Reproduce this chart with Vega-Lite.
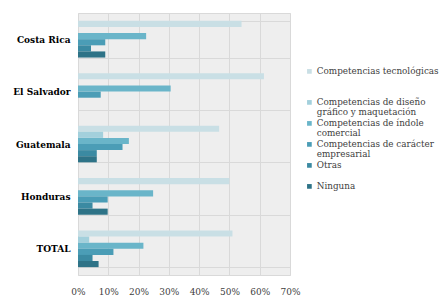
{
  "$schema": "https://vega.github.io/schema/vega-lite/v6.json",
  "width": 212,
  "height": 262,
  "autosize": "none",
  "padding": {"left": 78, "top": 13, "right": 157, "bottom": 32},
  "background": "white",
  "config": {
    "font": "DejaVu Serif",
    "view": {"stroke": "#d9d9d9", "fill": "#eeeeee"}
  },
  "data": {
    "values": [
      {"country": "Costa Rica", "cat": "Competencias tecnológicas", "value": 0.54},
      {"country": "Costa Rica", "cat": "Competencias de diseño gráfico y maquetación", "value": 0},
      {"country": "Costa Rica", "cat": "Competencias de índole comercial", "value": 0.225},
      {"country": "Costa Rica", "cat": "Competencias de carácter empresarial", "value": 0.09},
      {"country": "Costa Rica", "cat": "Otras", "value": 0.043},
      {"country": "Costa Rica", "cat": "Ninguna", "value": 0.09},
      {"country": "El Salvador", "cat": "Competencias tecnológicas", "value": 0.614},
      {"country": "El Salvador", "cat": "Competencias de diseño gráfico y maquetación", "value": 0},
      {"country": "El Salvador", "cat": "Competencias de índole comercial", "value": 0.306},
      {"country": "El Salvador", "cat": "Competencias de carácter empresarial", "value": 0.075},
      {"country": "El Salvador", "cat": "Otras", "value": 0},
      {"country": "El Salvador", "cat": "Ninguna", "value": 0},
      {"country": "Guatemala", "cat": "Competencias tecnológicas", "value": 0.466},
      {"country": "Guatemala", "cat": "Competencias de diseño gráfico y maquetación", "value": 0.083},
      {"country": "Guatemala", "cat": "Competencias de índole comercial", "value": 0.168},
      {"country": "Guatemala", "cat": "Competencias de carácter empresarial", "value": 0.147},
      {"country": "Guatemala", "cat": "Otras", "value": 0.062},
      {"country": "Guatemala", "cat": "Ninguna", "value": 0.062},
      {"country": "Honduras", "cat": "Competencias tecnológicas", "value": 0.50},
      {"country": "Honduras", "cat": "Competencias de diseño gráfico y maquetación", "value": 0},
      {"country": "Honduras", "cat": "Competencias de índole comercial", "value": 0.248},
      {"country": "Honduras", "cat": "Competencias de carácter empresarial", "value": 0.098},
      {"country": "Honduras", "cat": "Otras", "value": 0.048},
      {"country": "Honduras", "cat": "Ninguna", "value": 0.098},
      {"country": "TOTAL", "cat": "Competencias tecnológicas", "value": 0.51},
      {"country": "TOTAL", "cat": "Competencias de diseño gráfico y maquetación", "value": 0.037},
      {"country": "TOTAL", "cat": "Competencias de índole comercial", "value": 0.216},
      {"country": "TOTAL", "cat": "Competencias de carácter empresarial", "value": 0.117},
      {"country": "TOTAL", "cat": "Otras", "value": 0.048},
      {"country": "TOTAL", "cat": "Ninguna", "value": 0.068}
    ]
  },
  "mark": {"type": "bar"},
  "encoding": {
    "y": {
      "field": "country",
      "type": "nominal",
      "sort": ["Costa Rica", "El Salvador", "Guatemala", "Honduras", "TOTAL"],
      "scale": {"paddingInner": 0.3, "paddingOuter": 0.15},
      "axis": {
        "title": null,
        "domain": false,
        "ticks": false,
        "grid": true,
        "tickBand": "extent",
        "gridColor": "#d9d9d9",
        "labelFontWeight": "bold",
        "labelFontSize": 9,
        "labelColor": "#000000",
        "labelPadding": 8
      }
    },
    "yOffset": {
      "field": "cat",
      "type": "nominal",
      "sort": ["Competencias tecnológicas", "Competencias de diseño gráfico y maquetación", "Competencias de índole comercial", "Competencias de carácter empresarial", "Otras", "Ninguna"],
      "scale": {"paddingInner": 0, "paddingOuter": 0}
    },
    "x": {
      "field": "value",
      "type": "quantitative",
      "scale": {"domain": [0, 0.7], "nice": false},
      "axis": {
        "title": null,
        "format": ".0%",
        "values": [0, 0.1, 0.2, 0.3, 0.4, 0.5, 0.6, 0.7],
        "labelOverlap": false,
        "labelFlush": false,
        "domain": false,
        "ticks": false,
        "gridColor": "#d9d9d9",
        "labelFontSize": 9,
        "labelColor": "#404040",
        "labelPadding": 12
      }
    },
    "color": {
      "field": "cat",
      "type": "nominal",
      "sort": ["Competencias tecnológicas", "Competencias de diseño gráfico y maquetación", "Competencias de índole comercial", "Competencias de carácter empresarial", "Otras", "Ninguna"],
      "scale": {
        "domain": ["Competencias tecnológicas", "Competencias de diseño gráfico y maquetación", "Competencias de índole comercial", "Competencias de carácter empresarial", "Otras", "Ninguna"],
        "range": ["#c9dfe5", "#a3d0dc", "#6ab5c9", "#4b9db6", "#3b8aa2", "#2e7387"]
      },
      "legend": {
        "title": null,
        "orient": "none",
        "legendX": 227,
        "legendY": 54,
        "symbolType": "square",
        "symbolSize": 22,
        "symbolStrokeWidth": 0,
        "labelFontSize": 8.8,
        "labelColor": "#404040",
        "labelLimit": 200,
        "labelOffset": 3,
        "rowPadding": 1,
        "encode": {"labels": {"update": {"lineHeight": {"value": 10}}}},
        "labelExpr": "datum.label == 'Competencias tecnológicas' ? ['Competencias tecnológicas', '', ''] : datum.label == 'Competencias de diseño gráfico y maquetación' ? ['Competencias de diseño', 'gráfico y maquetación'] : datum.label == 'Competencias de índole comercial' ? ['Competencias de índole', 'comercial'] : datum.label == 'Competencias de carácter empresarial' ? ['Competencias de carácter', 'empresarial'] : datum.label == 'Otras' ? ['Otras', ''] : datum.label"
      }
    }
  }
}
